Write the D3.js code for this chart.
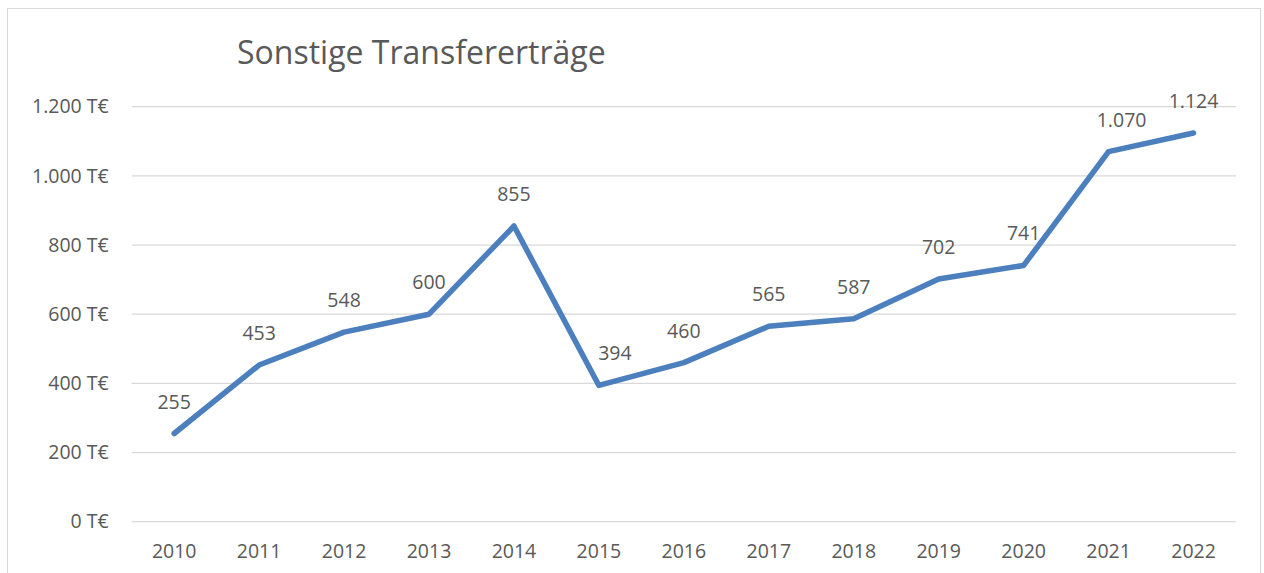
<!DOCTYPE html>
<html>
<head>
<meta charset="utf-8">
<script src="https://cdn.jsdelivr.net/npm/d3@7"></script>
<style>
  body { margin: 0; background: #fff; }
  svg text { font-family: "Open Sans", "Noto Sans", sans-serif; fill: #595959; }
</style>
</head>
<body>
<svg id="chart" width="1264" height="573"></svg>
<script>
var years = ["2010", "2011", "2012", "2013", "2014", "2015", "2016", "2017", "2018", "2019", "2020", "2021", "2022"];
var values = [255, 453, 548, 600, 855, 394, 460, 565, 587, 702, 741, 1070, 1124];
var yTicks = [0, 200, 400, 600, 800, 1000, 1200];

// a couple of labels sit a bit right of their point so they don't touch the line
var labelShift = { "2015": 16, "2021": 13 };

var fmt = function (v) {
  // German thousands separator
  return d3.format(",")(v).replace(/,/g, ".");
};

var svg = d3.select("#chart");

// chart border
svg.append("rect")
  .attr("x", 7.5).attr("y", 8.5)
  .attr("width", 1253).attr("height", 580)
  .attr("fill", "none")
  .attr("stroke", "#d9d9d9");

var plotLeft = 131.7, plotRight = 1236, plotTop = 106.7, plotBottom = 521.7;

var x = d3.scaleBand().domain(years).range([plotLeft, plotRight]);
var y = d3.scaleLinear().domain([0, 1200]).range([plotBottom, plotTop]);

// gridlines
svg.append("g")
  .selectAll("line")
  .data(yTicks)
  .join("line")
  .attr("x1", plotLeft).attr("x2", plotRight)
  .attr("y1", d => y(d)).attr("y2", d => y(d))
  .attr("stroke", "#d9d9d9")
  .attr("stroke-width", 1.3);

// y axis labels
var yAxis = svg.append("g")
  .attr("transform", `translate(${plotLeft}, 0)`)
  .call(d3.axisLeft(y).tickValues(yTicks).tickSize(0).tickPadding(23)
    .tickFormat(d => fmt(d) + " T€"));
yAxis.select(".domain").remove();
yAxis.selectAll("text").style("font-size", "19.5px");

// x axis labels
var xAxis = svg.append("g")
  .attr("transform", `translate(0, ${plotBottom})`)
  .call(d3.axisBottom(x).tickSize(0).tickPadding(22));
xAxis.select(".domain").remove();
xAxis.selectAll("text").style("font-size", "19.5px");

// line
var line = d3.line()
  .x((d, i) => x(years[i]) + x.bandwidth() / 2)
  .y(d => y(d));

svg.append("path")
  .datum(values)
  .attr("d", line)
  .attr("fill", "none")
  .attr("stroke", "#4c7fbd")
  .attr("stroke-width", 5.5)
  .attr("stroke-linejoin", "round")
  .attr("stroke-linecap", "round");

// data labels
svg.append("g")
  .selectAll("text")
  .data(values)
  .join("text")
  .attr("x", (d, i) => x(years[i]) + x.bandwidth() / 2 + (labelShift[years[i]] || 0))
  .attr("y", d => y(d) - 25)
  .attr("text-anchor", "middle")
  .style("font-size", "19.5px")
  .text(d => fmt(d));

// title
svg.append("text")
  .attr("x", 237)
  .attr("y", 64)
  .style("font-size", "32px")
  .text("Sonstige Transfererträge");
</script>
</body>
</html>
